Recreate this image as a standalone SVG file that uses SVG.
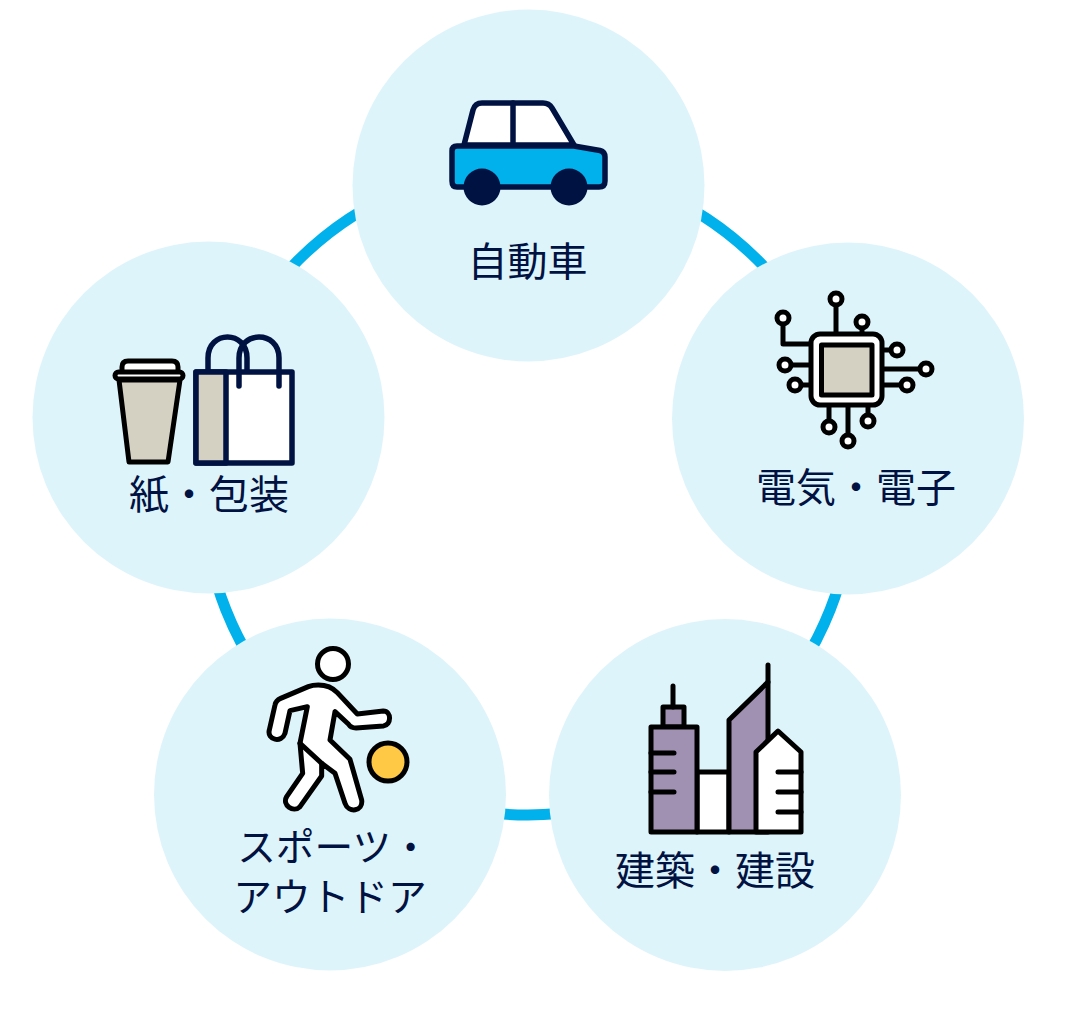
<svg xmlns="http://www.w3.org/2000/svg" width="1069" height="1015" viewBox="0 0 1069 1015">
<style>
.bg{fill:#def4fb}
.t{font-family:"Noto Sans CJK JP","Noto Sans JP",sans-serif;font-size:40px;fill:#001242;text-anchor:middle}
.s{font-size:38.7px}
.n{stroke:#001242;stroke-width:5.5;stroke-linejoin:round;stroke-linecap:round}
.k{stroke:#000;stroke-width:5;stroke-linejoin:round;stroke-linecap:round}
.kn{fill:none}
.w{fill:#fff}
.g{fill:#d4d1c3}
.p{fill:#a091b3}
</style>
<rect width="1069" height="1015" fill="#fff"/>
<g id="connectors"><circle cx="528" cy="490" r="325" fill="none" stroke="#00b1eb" stroke-width="11"/></g>
<g id="node-car">
<circle class="bg" cx="528.500" cy="185.500" r="176"/>
<path class="n w" d="M464 145L473 110Q475 103 482 103H543Q549 103 552 108L574 145Z"/>
<path class="n" fill="none" d="M513 103V145"/>
<path class="n" fill="#00b1eb" d="M457 146H574L600 150.500Q605 152 605 157V181Q605 187 599 187H457Q452 187 452 181V151Q452 146 457 146Z"/>
<circle cx="482" cy="187" r="18.500" fill="#001242"/><circle cx="569" cy="187" r="18.500" fill="#001242"/>
<text class="t" x="527.500" y="276">自動車</text>
</g>
<g id="node-electronics">
<circle class="bg" cx="848" cy="418.500" r="176"/>
<path class="k kn" d="M783 318V344H811M836 299V334M862 322V334M882 350H897M882 369H926M882 385H907M785 365H811M795 385H811M829 405V427M848 405V441M868 405V421"/>
<g class="k w"><circle cx="783" cy="318" r="6"/><circle cx="836" cy="299" r="6"/><circle cx="862" cy="322" r="6"/><circle cx="897" cy="350" r="6"/><circle cx="926" cy="369" r="6"/><circle cx="907" cy="385" r="6"/><circle cx="785" cy="365" r="6"/><circle cx="795" cy="385" r="6"/><circle cx="829" cy="427" r="6"/><circle cx="848" cy="441" r="6"/><circle cx="868" cy="421" r="6"/></g>
<rect class="k w" x="811" y="334" width="71" height="71" rx="9"/>
<rect class="k g" x="821.500" y="345" width="50.500" height="50" stroke-linejoin="miter"/>
<text class="t" x="856" y="502">電気・電子</text>
</g>
<g id="node-construction">
<circle class="bg" cx="725" cy="795" r="176"/>
<rect class="k w" x="697" y="772" width="32" height="60"/>
<path class="k p" d="M729 832V720L768 682V832Z"/>
<path class="k kn" d="M768 682V665"/>
<rect class="k p" x="663" y="707" width="21" height="20"/>
<rect class="k p" x="651" y="727" width="46" height="105"/>
<path class="k kn" d="M673 707V686M651 753H674M651 772H674M651 792H674"/>
<path class="k w" d="M756 832V752L778 731L801 752V832Z"/>
<path class="k kn" d="M778 772H801M778 792H801M778 812H801"/>
<text class="t" x="715" y="885">建築・建設</text>
</g>
<g id="node-sports">
<circle class="bg" cx="330" cy="794.500" r="176"/>
<circle class="k w" cx="333" cy="664" r="15.500"/>
<g transform="translate(250 640) scale(.3333)">
<path fill="#fff" stroke="#000" stroke-width="15" stroke-linejoin="round" d="M205 135C230 135 250 145 262 158L322 222L400 213C425 213 425 255 400 258L318 264C308 264 300 260 295 252L255 215L240 300L300 358L335 480C340 515 295 520 285 490L255 400L215 370V408L150 500C130 520 95 495 110 470L158 400L150 310L172 200L120 212L105 280C95 310 50 300 58 270L75 195C77 185 85 178 92 175L175 140C185 136 195 135 205 135Z"/>
<path fill="none" stroke="#000" stroke-width="15" stroke-linecap="round" d="M150 310L215 370"/>
</g>
<circle class="k" fill="#ffc845" cx="388" cy="762" r="19"/>
<text class="t s" x="333.500" y="861">スポーツ・</text>
<text class="t s" x="330" y="911">アウトドア</text>
</g>
<g id="node-paper">
<circle class="bg" cx="208.500" cy="417.500" r="176"/>
<path class="k g" d="M119 380H180L168 462H129Z"/>
<path class="k w" d="M122 373V367Q122 361 128 361H172Q178 361 178 367V373Z"/>
<rect class="k w" x="115" y="372" width="68" height="7" rx="3.500"/>
<path class="n kn" d="M208 372V358C208 330 247 330 247 358V372"/>
<rect class="n w" x="196" y="372" width="96" height="91"/>
<rect class="n g" x="196" y="372" width="30" height="91"/>
<path class="n kn" d="M239 386V358C239 330 279 330 279 358V386"/>
<text class="t" x="209" y="509">紙・包装</text>
</g>
</svg>
